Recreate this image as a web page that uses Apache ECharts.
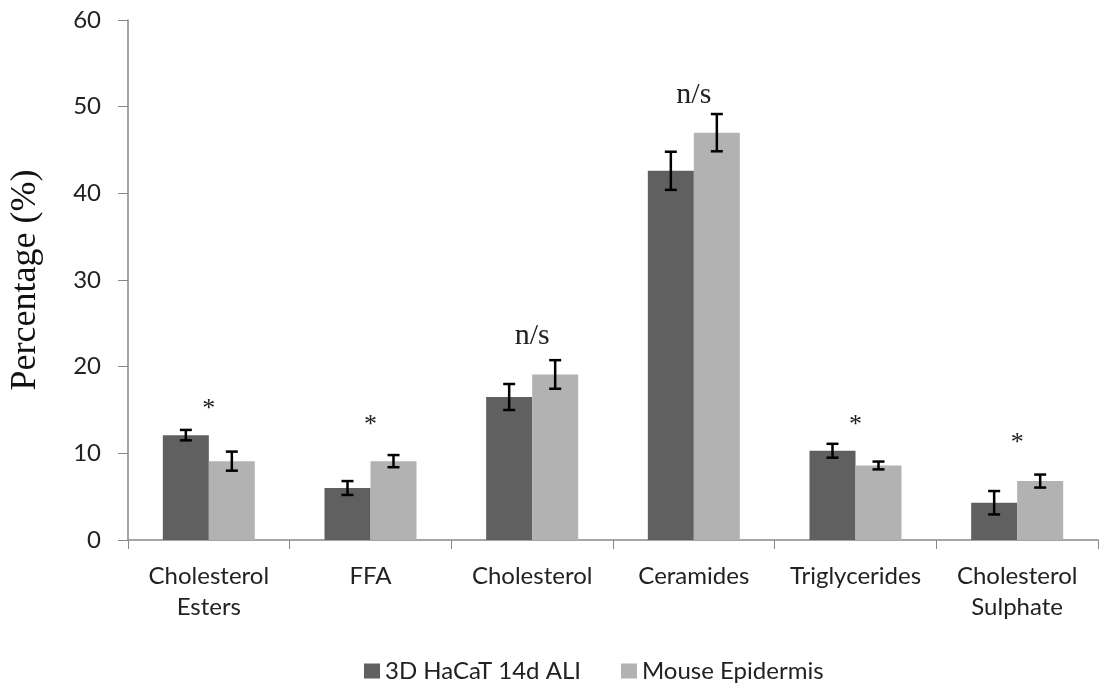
<!DOCTYPE html>
<html>
<head>
<meta charset="utf-8">
<script src="https://cdn.jsdelivr.net/npm/echarts@6/dist/echarts.min.js"></script>
<style>
  html, body { margin: 0; padding: 0; background: #fff; }
  #main { width: 1104px; height: 684px; }
</style>
</head>
<body>
<div id="main"></div>
<script>
var categories = ['Cholesterol\nEsters', 'FFA', 'Cholesterol', 'Ceramides', 'Triglycerides', 'Cholesterol\nSulphate'];
var seriesNames = ['3D HaCaT 14d ALI', 'Mouse Epidermis'];
var hacat = [12.1, 6.0, 16.5, 42.6, 10.3, 4.3];
var hacatErr = [0.6, 0.8, 1.5, 2.2, 0.8, 1.35];
var mouse = [9.1, 9.1, 19.1, 47.0, 8.6, 6.8];
var mouseErr = [1.1, 0.7, 1.65, 2.15, 0.45, 0.75];
var sigLabels = ['*', '*', 'n/s', 'n/s', '*', '*'];
var sigY = [15.1, 13.3, 23.5, 51.3, 13.3, 11.2];

var barW = 46;
var sansFont = 'Lato';
var serifFont = 'Liberation Serif';

function errorSeries(vals, errs, offset) {
  var data = vals.map(function (v, i) { return [i, v - errs[i], v + errs[i]]; });
  return {
    type: 'custom',
    silent: true,
    z: 5,
    data: data,
    renderItem: function (params, api) {
      var lo = api.coord([api.value(0), api.value(1)]);
      var hi = api.coord([api.value(0), api.value(2)]);
      var x = lo[0] + offset;
      var cap = 6;
      var st = { stroke: '#000', lineWidth: 2.5 };
      return {
        type: 'group',
        children: [
          { type: 'line', shape: { x1: x, y1: hi[1], x2: x, y2: lo[1] }, style: st },
          { type: 'line', shape: { x1: x - cap, y1: hi[1], x2: x + cap, y2: hi[1] }, style: st },
          { type: 'line', shape: { x1: x - cap, y1: lo[1], x2: x + cap, y2: lo[1] }, style: st }
        ]
      };
    }
  };
}

var myChart = echarts.init(document.getElementById('main'));
myChart.setOption({
  animation: false,
  grid: { left: 128, right: 6, top: 20, bottom: 144 },
  legend: {
    top: 654,
    left: 359,
    itemWidth: 16,
    itemHeight: 15,
    itemGap: 40,
    icon: 'rect',
    data: seriesNames,
    textStyle: { fontFamily: sansFont, fontSize: 24, color: '#222' }
  },
  xAxis: {
    type: 'category',
    data: categories,
    axisLine: { lineStyle: { color: '#888', width: 1.5 } },
    axisTick: { show: true, length: 9, lineStyle: { color: '#888' } },
    axisLabel: {
      interval: 0,
      hideOverlap: false,
      fontFamily: sansFont,
      fontSize: 24,
      color: '#222',
      margin: 21,
      lineHeight: 31
    }
  },
  yAxis: {
    type: 'value',
    min: 0,
    max: 60,
    interval: 10,
    name: 'Percentage (%)',
    nameLocation: 'middle',
    nameGap: 84,
    nameTextStyle: { fontFamily: serifFont, fontSize: 36, color: '#111' },
    splitLine: { show: false },
    axisLine: { show: true, lineStyle: { color: '#888', width: 1.5 } },
    axisTick: { show: true, length: 10, lineStyle: { color: '#888' } },
    axisLabel: { fontFamily: sansFont, fontSize: 24, color: '#222', margin: 27 }
  },
  series: [
    {
      name: seriesNames[0],
      type: 'bar',
      data: hacat,
      barWidth: barW,
      barGap: '0%',
      itemStyle: { color: '#606060' }
    },
    {
      name: seriesNames[1],
      type: 'bar',
      data: mouse,
      barWidth: barW,
      barGap: '0%',
      itemStyle: { color: '#b2b2b2' }
    },
    errorSeries(hacat, hacatErr, -barW / 2),
    errorSeries(mouse, mouseErr, barW / 2),
    {
      type: 'custom',
      silent: true,
      z: 6,
      data: sigY.map(function (v, i) { return [i, v]; }),
      renderItem: function (params, api) {
        var p = api.coord([api.value(0), api.value(1)]);
        var txt = sigLabels[params.dataIndex];
        return {
          type: 'text',
          x: p[0],
          y: p[1],
          style: {
            text: txt,
            fill: '#222',
            font: (txt === '*' ? '26px ' : '30px ') + '"' + serifFont + '"',
            align: 'center',
            verticalAlign: 'middle'
          }
        };
      }
    }
  ]
});
</script>
</body>
</html>
